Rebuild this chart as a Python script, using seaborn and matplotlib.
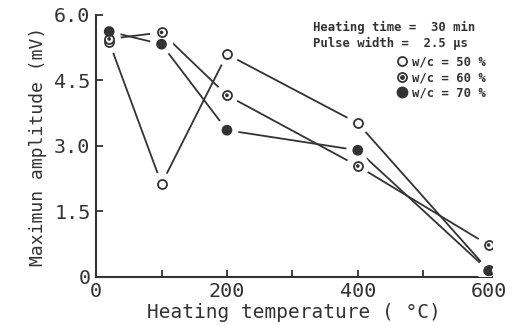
import matplotlib
matplotlib.use("Agg")
import matplotlib.pyplot as plt
import seaborn as sns
import pandas as pd
from matplotlib.lines import Line2D

# Heating temperature (°C) and maximum amplitude (mV) per water/cement ratio
temperature = [20, 100, 200, 400, 600]
amp_wc50 = [5.38, 2.13, 5.10, 3.52, 0.15]
amp_wc60 = [5.45, 5.60, 4.16, 2.54, 0.73]
amp_wc70 = [5.62, 5.33, 3.36, 2.90, 0.14]
series_labels = ["w/c = 50 %", "w/c = 60 %", "w/c = 70 %"]

x_ticks = [0, 200, 400, 600]
y_ticks = [0, 1.5, 3.0, 4.5, 6.0]
y_ticklabels = ["0", "1.5", "3.0", "4.5", "6.0"]

frames = []
for lab, vals in zip(series_labels, [amp_wc50, amp_wc60, amp_wc70]):
    frames.append(pd.DataFrame({"temp": temperature, "amp": vals, "wc": lab}))
df = pd.concat(frames, ignore_index=True)

sns.set_theme(style="ticks")
plt.rcParams["font.family"] = ["DejaVu Sans Mono", "DejaVu Sans"]
ink = "#333333"

fig = plt.figure(figsize=(5.14, 3.25), dpi=100)
ax = fig.add_axes([0.187, 0.148, 0.77, 0.806])

# connecting lines
sns.lineplot(data=df, x="temp", y="amp", hue="wc", palette=[ink] * 3,
             linewidth=1.3, legend=False, ax=ax, zorder=2)
# white halos leave a gap between the lines and the symbols
sns.scatterplot(data=df, x="temp", y="amp", color="white", s=280,
                edgecolor="none", legend=False, ax=ax, zorder=3)

d50 = df[df.wc == series_labels[0]]
d60 = df[df.wc == series_labels[1]]
d70 = df[df.wc == series_labels[2]]
sns.scatterplot(data=d50, x="temp", y="amp", marker="o", s=42, facecolor="white",
                edgecolor=ink, linewidth=1.3, legend=False, ax=ax, zorder=4)
sns.scatterplot(data=d60, x="temp", y="amp", marker="o", s=42, facecolor="white",
                edgecolor=ink, linewidth=1.3, legend=False, ax=ax, zorder=4)
sns.scatterplot(data=d60, x="temp", y="amp", marker="o", s=7, color=ink,
                edgecolor="none", legend=False, ax=ax, zorder=5)
sns.scatterplot(data=d70, x="temp", y="amp", marker="o", s=60, color=ink,
                edgecolor="none", legend=False, ax=ax, zorder=4)

ax.set_xlim(0, 605)
ax.set_ylim(0, 6.0)
ax.set_xticks(x_ticks)
ax.set_xticks([100, 300, 500], minor=True)
ax.set_yticks(y_ticks)
ax.set_yticklabels(y_ticklabels)
ax.tick_params(axis="both", which="both", direction="in", colors=ink,
               labelsize=14.5, width=1.3, length=5, pad=4)
for s in ["top", "right"]:
    ax.spines[s].set_visible(False)
for s in ["left", "bottom"]:
    ax.spines[s].set_color(ink)
    ax.spines[s].set_linewidth(1.5)

ax.set_xlabel("Heating temperature ( \u00b0C)", fontsize=14, color=ink, labelpad=1)
ax.set_ylabel("Maximun amplitude (mV)", fontsize=13, color=ink, labelpad=5)

ax.text(0.548, 0.977, "Heating time =  30 min", transform=ax.transAxes,
        fontsize=8.8, fontweight="bold", color=ink, va="top", family="DejaVu Sans Mono")
ax.text(0.548, 0.916, "Pulse width =  2.5 \u03bcs", transform=ax.transAxes,
        fontsize=8.8, fontweight="bold", color=ink, va="top", family="DejaVu Sans Mono")

handles = [
    Line2D([], [], linestyle="none", marker="o", markersize=6.5, markerfacecolor="white",
           markeredgecolor=ink, markeredgewidth=1.3),
    (Line2D([], [], linestyle="none", marker="o", markersize=6.5, markerfacecolor="white",
            markeredgecolor=ink, markeredgewidth=1.3),
     Line2D([], [], linestyle="none", marker="o", markersize=2.5, color=ink)),
    Line2D([], [], linestyle="none", marker="o", markersize=7.5, color=ink),
]
leg = ax.legend(handles, series_labels, loc="upper left", bbox_to_anchor=(0.745, 0.868),
                frameon=False, handlelength=0.8, handletextpad=0.4, labelspacing=0.2,
                borderpad=0, prop={"family": "DejaVu Sans Mono", "weight": "bold", "size": 8.8})
for t in leg.get_texts():
    t.set_color(ink)

fig.savefig("out.png", dpi=100)
